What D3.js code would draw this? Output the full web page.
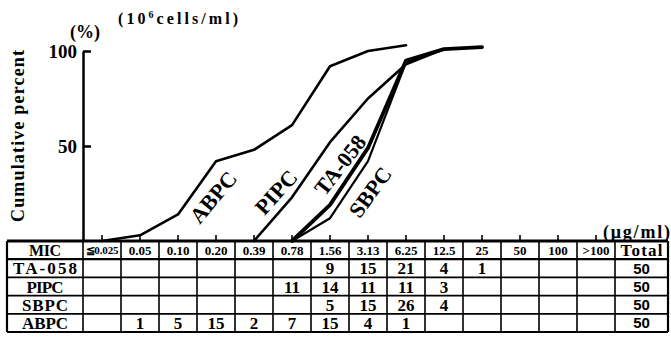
<!DOCTYPE html>
<html><head><meta charset="utf-8">
<script src="https://cdn.jsdelivr.net/npm/d3@7"></script>
<style>body{margin:0;background:#fff;} svg{display:block;}</style></head>
<body>
<script>
// ---- data ----
const mic = ["≦0.025","0.05","0.10","0.20","0.39","0.78","1.56","3.13","6.25","12.5","25","50","100",">100"];
const drugs = ["TA-058","PIPC","SBPC","ABPC"];
// counts per MIC column (table)
const countTA058 = [null,null,null,null,null,null,9,15,21,4,1,null,null,null];
const countPIPC  = [null,null,null,null,null,11,14,11,11,3,null,null,null,null];
const countSBPC  = [null,null,null,null,null,null,5,15,26,4,null,null,null,null];
const countABPC  = [null,1,5,15,2,7,15,4,1,null,null,null,null,null];
const totals = [50,50,50,50];
// cumulative percent curves
const cumTA058 = [null,null,null,null,null,0,19,49,95,101,102,null,null,null];
const cumPIPC  = [null,null,null,null,0,23,52,75,93,101,null,null,null,null];
const cumSBPC  = [null,null,null,null,null,0,12,42,94,101,null,null,null,null];
const cumABPC  = [0,3,14,42,48,61,92,100,103,null,null,null,null,null];
const yTicks = [50,100];

(function(){
const SERIF="Liberation Serif";
const W=671,H=340;
const svg=d3.select("body").append("svg").attr("width",W).attr("height",H);
function txt(g,o){
  const t=g.append("text").attr("font-family",o.ff||SERIF).attr("font-weight",o.fw||"bold")
    .attr("font-size",o.fs||16).attr("fill","#000").attr("text-anchor",o.anchor||"middle");
  if(o.x!=null)t.attr("x",o.x); if(o.y!=null)t.attr("y",o.y);
  if(o.tr)t.attr("transform",o.tr);
  if(o.dy)t.attr("dy",o.dy);
  if(o.len)t.attr("textLength",o.len).attr("lengthAdjust",o.adj||"spacing");
  if(o.text!=null)t.text(o.text);
  return t;
}

const x=d3.scaleBand().domain(mic).range([83,615]).padding(0);
const y=d3.scaleLinear().domain([0,100]).range([241,51]);
const cx=d=>x(d)+x.bandwidth()/2;

// y axis
const ya=svg.append("g").attr("transform","translate(83,0)")
  .call(d3.axisLeft(y).tickValues(yTicks).tickSizeInner(-8).tickSizeOuter(0).tickPadding(6));
ya.select(".domain").attr("stroke","#000").attr("stroke-width",2.5);
ya.selectAll(".tick line").attr("stroke","#000").attr("stroke-width",2.5);
ya.selectAll(".tick text").attr("font-family",SERIF).attr("font-weight","bold")
  .attr("font-size",19).attr("fill","#000").attr("dy","0.34em");

// x axis ticks (upward)
const xa=svg.append("g").attr("transform","translate(0,241)")
  .call(d3.axisTop(x).tickSize(6).tickFormat(""));
xa.select(".domain").remove();
xa.selectAll(".tick line").attr("stroke","#000").attr("stroke-width",1.6);

// curves
const series=[
  {name:"ABPC",vals:cumABPC,w:2.6},
  {name:"PIPC",vals:cumPIPC,w:2.6},
  {name:"SBPC",vals:cumSBPC,w:2.2},
  {name:"TA-058",vals:cumTA058,w:3.8}
];
const line=d3.line().defined(d=>d.v!=null).x(d=>cx(d.c)).y(d=>y(d.v));
series.forEach(s=>{
  svg.append("path").datum(s.vals.map((v,i)=>({c:mic[i],v})))
    .attr("d",line).attr("fill","none").attr("stroke","#000")
    .attr("stroke-width",s.w).attr("stroke-linejoin","round").attr("stroke-linecap","round");
});

// curve labels
const lab=[["ABPC",213,197,-50],["PIPC",276,192,-48],["TA-058",340,165,-52],["SBPC",370,192,-54]];
lab.forEach(([t,px,py,a])=>{
  txt(svg,{tr:`translate(${px},${py}) rotate(${a})`,dy:"0.35em",fs:22,text:t});
});

// titles
txt(svg,{tr:"translate(18,136) rotate(-90)",dy:"0.35em",fs:18,len:172,text:"Cumulative percent"});
txt(svg,{x:85,y:38,fs:18,text:"(%)"});
const t2=txt(svg,{x:118,y:24,fs:16,anchor:"start",len:120});
t2.append("tspan").text("(10");
t2.append("tspan").attr("font-size",10).attr("dy",-6).text("6");
t2.append("tspan").attr("dy",6).text("cells/ml)");
txt(svg,{x:670,y:238,fs:18,anchor:"end",len:67,text:"(μg/ml)"});

// table
const tTop=241,rh=18.2,left=7,right=668;
const counts=[countTA058,countPIPC,countSBPC,countABPC];
const tb=svg.append("g");
const nRows=5;
d3.range(nRows+1).forEach(r=>{
  tb.append("line").attr("x1",left).attr("x2",right).attr("y1",tTop+r*rh).attr("y2",tTop+r*rh)
    .attr("stroke","#000").attr("stroke-width",r===0?3:(r===1?2.2:1.8));
});
const vx=[left].concat(mic.map(m=>x(m))).concat([615,right]);
vx.forEach((v,i)=>{
  tb.append("line").attr("x1",v).attr("x2",v).attr("y1",tTop).attr("y2",tTop+nRows*rh)
    .attr("stroke","#000").attr("stroke-width",(i===0||i===vx.length-1)?2.2:1.6);
});
const colMid=(left+83)/2, totMid=(615+right)/2;
txt(tb,{x:colMid,y:tTop+rh/2,dy:"0.36em",fs:16,len:32,text:"MIC"});
mic.forEach(m=>{
  txt(tb,{x:cx(m),y:tTop+rh/2,dy:"0.36em",fs:m==="≦0.025"?11:13,
    len:m==="≦0.025"?33:null,text:m});
});
txt(tb,{x:totMid,y:tTop+rh/2,dy:"0.36em",fs:17,len:42,text:"Total"});
const rowLen={"TA-058":64,"PIPC":37,"SBPC":46,"ABPC":46};
drugs.forEach((d,r)=>{
  const ry=tTop+(r+1)*rh+rh/2;
  txt(tb,{x:colMid,y:ry,dy:"0.36em",fs:17,len:rowLen[d],text:d});
  counts[r].forEach((v,i)=>{
    if(v==null)return;
    txt(tb,{x:cx(mic[i]),y:ry,dy:"0.36em",fs:17,text:v});
  });
  txt(tb,{x:totMid,y:ry,dy:"0.36em",fs:15,ff:"Liberation Sans",fw:"bold",text:totals[r]});
});
})();
</script>
</body></html>
